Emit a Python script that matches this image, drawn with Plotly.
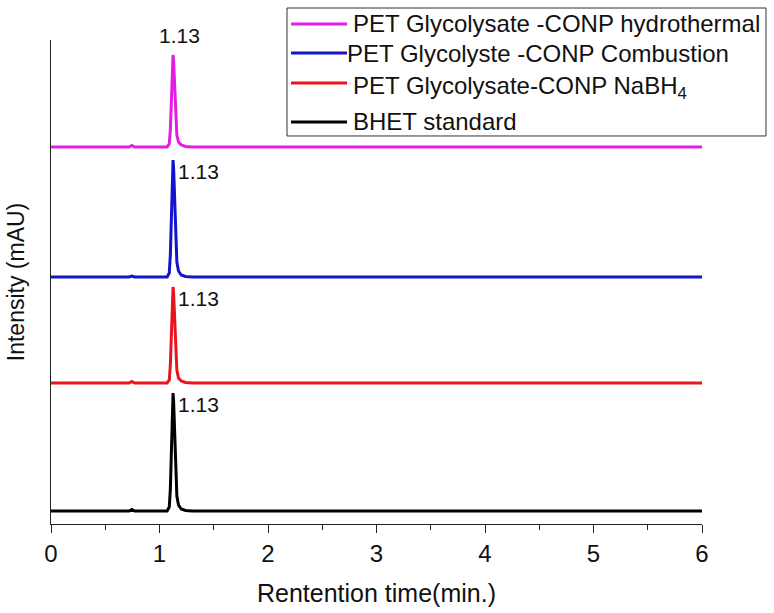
import plotly.graph_objects as go

# Retention time points (min)
time = [0, 0.72, 0.745, 0.77, 1.07, 1.09, 1.10, 1.11, 1.12, 1.125, 1.13, 1.14, 1.15, 1.16, 1.175, 1.20, 1.24, 1.30, 6]

# Intensities (arbitrary mAU, relative to each trace's own baseline)
bhet = [0, 0, 1.5, 0, 0, 4, 22, 72, 112, 118, 110, 70, 35, 15, 6, 2, 0.5, 0, 0]
nabh4 = [0, 0, 1.5, 0, 0, 3, 18, 58, 91, 96, 90, 58, 29, 13, 5, 2, 0.5, 0, 0]
combustion = [0, 0, 1.0, 0, 0, 4, 22, 71, 111, 117, 109, 69, 34, 15, 6, 2, 0.5, 0, 0]
hydrothermal = [0, 0, 1.5, 0, 0, 3, 17, 56, 87, 92, 86, 55, 28, 12, 5, 2, 0.5, 0, 0]

# Vertical stacking offsets of the baselines
offsets = {"bhet": 13, "nabh4": 141, "combustion": 247, "hydrothermal": 377}

peak_time = 1.125
peak_label = "1.13"

names = [
    "PET Glycolysate -CONP hydrothermal",
    "PET Glycolyste -CONP Combustion",
    "PET Glycolysate-CONP NaBH<sub>4</sub>",
    "BHET standard",
]
series = [hydrothermal, combustion, nabh4, bhet]
keys = ["hydrothermal", "combustion", "nabh4", "bhet"]
colors = ["#E31DE3", "#1414CC", "#E8151C", "#000000"]

FONT = "Liberation Sans, Arial, sans-serif"

fig = go.Figure()
for name, vals, key, col in zip(names, series, keys, colors):
    off = offsets[key]
    fig.add_trace(go.Scatter(
        x=time, y=[v + off for v in vals], mode="lines", name=name,
        line=dict(color=col, width=3), showlegend=False,
    ))

# Peak labels
for vals, key in zip(series, keys):
    top = max(vals) + offsets[key]
    if key == "hydrothermal":
        fig.add_annotation(x=peak_time, y=top, text=peak_label, showarrow=False,
                           xanchor="center", yanchor="bottom", xshift=6, yshift=6,
                           font=dict(family=FONT, size=21, color="#111"))
    else:
        fig.add_annotation(x=peak_time, y=top, text=peak_label, showarrow=False,
                           xanchor="left", yanchor="top", xshift=3, yshift=2,
                           font=dict(family=FONT, size=21, color="#111"))

# Legend box (drawn as shapes + text, positioned in paper coordinates)
fig.add_shape(type="rect", xref="paper", yref="paper",
              x0=0.3625, x1=1.0983, y0=0.8017, y1=1.0661,
              line=dict(color="#333", width=1), fillcolor="white", layer="above")
row_y = [1.0331, 0.9731, 0.9112, 0.8306]
text_x = [0.4610, 0.4520, 0.4610, 0.4610]
text_shift = [0, 0, -5, 0]
for name, col, ry, tx, ts in zip(names, colors, row_y, text_x, text_shift):
    fig.add_shape(type="line", xref="paper", yref="paper",
                  x0=0.3687, x1=0.4547, y0=ry, y1=ry,
                  line=dict(color=col, width=3), layer="above")
    fig.add_annotation(xref="paper", yref="paper", x=tx, y=ry, text=name,
                       showarrow=False, xanchor="left", yanchor="middle", yshift=ts,
                       font=dict(family=FONT, size=24, color="#111"))

fig.update_layout(
    width=774, height=613,
    margin=dict(l=51, r=72, t=40, b=89),
    plot_bgcolor="white", paper_bgcolor="white",
    showlegend=False,
    xaxis=dict(
        range=[0, 6], dtick=1, tick0=0,
        showline=True, linecolor="#222", linewidth=1,
        ticks="outside", ticklen=8, tickcolor="#222",
        minor=dict(dtick=0.5, ticks="outside", ticklen=5, tickcolor="#222"),
        showgrid=False, zeroline=False,
        tickfont=dict(family=FONT, size=24, color="#111"),
        title=dict(text="Rentention time(min.)", standoff=18,
                   font=dict(family=FONT, size=25, color="#111")),
    ),
    yaxis=dict(
        range=[0, 484],
        showline=True, linecolor="#222", linewidth=1,
        ticks="", showticklabels=False, showgrid=False, zeroline=False,
        title=dict(text="Intensity (mAU)", standoff=18,
                   font=dict(family=FONT, size=23, color="#111")),
    ),
)

fig.write_html("out.html")
